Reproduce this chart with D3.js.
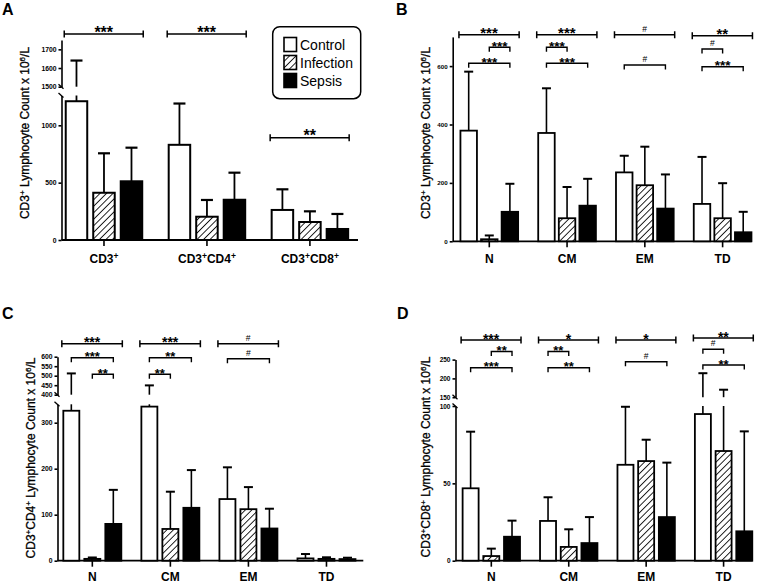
<!DOCTYPE html>
<html><head><meta charset="utf-8">
<script src="https://cdn.jsdelivr.net/npm/d3@7"></script>
<style>body{margin:0;background:#fff}svg{display:block}text{font-family:"Liberation Sans",Arial,sans-serif;fill:#000}</style>
</head><body><svg id="c" width="760" height="584"></svg>
<script>
// ---------- DATA ----------
const series = ["Control", "Infection", "Sepsis"];
const catsA = ["CD3+", "CD3+CD4+", "CD3+CD8+"];
const catsSub = ["N", "CM", "EM", "TD"];

// Panel A: CD3+ totals
const aControl = [1210, 830, 262],  aControlSD = [430, 360, 180];
const aInfection = [412, 203, 157], aInfectionSD = [344, 146, 93];
const aSepsis = [512, 351, 96],     aSepsisSD = [293, 236, 131];
// Panel B: CD3+ subsets
const bControl = [379, 371, 236, 128], bControlSD = [202, 153, 57, 161];
const bInfection = [7, 79, 192, 79],   bInfectionSD = [13, 107, 132, 120];
const bSepsis = [101, 122, 112, 31],   bSepsisSD = [96, 92, 117, 70];
// Panel C: CD3+CD4+ subsets
const cControl = [326, 335, 134, 5],   cControlSD = [186, 114, 69, 9.5];
const cInfection = [4, 69, 112, 4],    cInfectionSD = [3, 81, 48, 3.4];
const cSepsis = [80, 115, 70, 3.5],    cSepsisSD = [74, 82, 43, 3];
// Panel D: CD3+CD8+ subsets
const dControl = [46.8, 25.7, 62, 94.8], dControlSD = [36.6, 15.3, 37.5, 119];
const dInfection = [3, 8.9, 64.4, 70.9], dInfectionSD = [4.8, 11.4, 13.8, 99];
const dSepsis = [15.5, 11.4, 28.2, 19],  dSepsisSD = [10.4, 16.8, 35.2, 64.6];

// Y tick labels
const aTicksLow = [0, 500, 1000], aTicksUp = [1500, 1600, 1700];
const bTicks = [0, 200, 400, 600];
const cTicksLow = [0, 100, 200, 300], cTicksUp = [400, 450, 500, 550, 600];
const dTicksLow = [0, 50, 100], dTicksUp = [150, 200, 250];

// Significance: [category, comparison, label, level index]
const sigA = [["CD3+","all","***",0],["CD3+CD4+","all","***",0],["CD3+CD8+","all","**",1]];
const sigB = [["N","all","***",0],["N","Infection-Sepsis","***",1],["N","Control-Sepsis","***",2],
  ["CM","all","***",0],["CM","Control-Infection","***",1],["CM","Control-Sepsis","***",2],
  ["EM","all","#",0],["EM","Control-Sepsis","#",3],
  ["TD","all","**",4],["TD","Control-Infection","#",5],["TD","Control-Sepsis","***",6]];
const sigC = [["N","all","***",0],["N","Control-Sepsis","***",1],["N","Infection-Sepsis","**",2],
  ["CM","all","***",0],["CM","Control-Sepsis","**",1],["CM","Control-Infection","**",2],
  ["EM","all","#",0],["EM","Control-Sepsis","#",3]];
const sigD = [["N","all","***",0],["N","Infection-Sepsis","**",1],["N","Control-Sepsis","***",2],
  ["CM","all","*",0],["CM","Control-Infection","**",1],["CM","Control-Sepsis","**",2],
  ["EM","all","*",0],["EM","Control-Sepsis","#",3],
  ["TD","all","**",4],["TD","Control-Infection","#",5],["TD","Control-Sepsis","**",6]];

// ---------- LAYOUT ----------
const panels = [
 {letter:"A", lx:2, ly:15, cats:catsA, means:[aControl,aInfection,aSepsis], sds:[aControlSD,aInfectionSD,aSepsisSD], sig:sigA,
  xRange:[52.5,361.4], ax:61.5, axEnd:358, barW:21.5, off:27.5, cap:12, bw:2, ew:1.8, labOff:23,
  lower:{d:[0,1260], r:[240,95.5], t:aTicksLow}, upper:{d:[1500,1750], r:[86.7,40], t:aTicksUp},
  title:"CD3+ Lymphocyte Count x 10^6/L", tx:25, ty:133, levels:[34,137.7], tickFont:6.8, starBig:16, starSmall:15, legend:true},
 {letter:"B", lx:396, ly:15, cats:catsSub, means:[bControl,bInfection,bSepsis], sds:[bControlSD,bInfectionSD,bSepsisSD], sig:sigB,
  xRange:[450.4,761.5], ax:452.7, axEnd:751.7, barW:16.5, off:20.6, cap:9, bw:1.8, ew:1.6, labOff:22,
  lower:{d:[0,700], r:[241.3,36.9], t:bTicks}, upper:null,
  title:"CD3+ Lymphocyte Count x 10^6/L", tx:426, ty:133, levels:[34.7,47.3,63.3,65,35.7,49,66.7], tickFont:6.2, starBig:15, starSmall:13.5},
 {letter:"C", lx:2, ly:319, cats:catsSub, means:[cControl,cInfection,cSepsis], sds:[cControlSD,cInfectionSD,cSepsisSD], sig:sigC,
  xRange:[53.3,365.5], ax:57.5, axEnd:363.3, barW:16, off:21, cap:9, bw:1.8, ew:1.6, labOff:20,
  lower:{d:[0,340], r:[560.7,404.3], t:cTicksLow}, upper:{d:[400,600], r:[394.7,356.7], t:cTicksUp},
  title:"CD3+CD4+ Lymphocyte Count x 10^6/L", tx:31, ty:458, levels:[343.7,357.7,374.3,358.7], tickFont:6.8, starBig:14, starSmall:13},
 {letter:"D", lx:397, ly:319, cats:catsSub, means:[dControl,dInfection,dSepsis], sds:[dControlSD,dInfectionSD,dSepsisSD], sig:sigD,
  xRange:[452.6,762.3], ax:455.5, axEnd:752.5, barW:16, off:20.7, cap:9, bw:1.8, ew:1.6, labOff:20,
  lower:{d:[0,100], r:[560.7,406], t:dTicksLow}, upper:{d:[150,250], r:[397.2,359.6], t:dTicksUp},
  title:"CD3+CD8+ Lymphocyte Count x 10^6/L", tx:426, ty:457, levels:[340,351.5,367.7,361.7,338,349.3,365], tickFont:6.5, starBig:14, starSmall:13}
];

const svg = d3.select("#c");
const defs = svg.append("defs");
defs.append("pattern").attr("id","hatch").attr("patternUnits","userSpaceOnUse")
  .attr("width",4.6).attr("height",4.6).attr("patternTransform","rotate(45)")
  .call(p=>{p.append("rect").attr("width",4.6).attr("height",4.6).attr("fill","#fff");
            p.append("line").attr("x1",0).attr("y1",0).attr("x2",0).attr("y2",4.6).attr("stroke","#000").attr("stroke-width",1.7);});

const fills = {Control:"#fff", Infection:"url(#hatch)", Sepsis:"#000"};

function rich(sel, str, supSize, shift){
  const parts = str.split(/(\+|\^\d+)/).filter(s=>s.length);
  let inSup=false;
  parts.forEach(p=>{
    const isSup = p==="+" || p[0]==="^";
    const t = p[0]==="^" ? p.slice(1) : p;
    const ts = sel.append("tspan").text(t);
    if(isSup){ ts.attr("font-size",supSize); if(!inSup) ts.attr("dy",-shift); inSup=true; }
    else if(inSup){ ts.attr("dy",shift); inSup=false; }
  });
}

panels.forEach(p=>{
  const g = svg.append("g");
  const x = d3.scaleBand().domain(p.cats).range(p.xRange).padding(0);
  const inner = d3.scaleBand().domain(series).range([-1.5*p.off, 1.5*p.off]);
  const cx = (cat, s) => x(cat) + x.bandwidth()/2 + inner(s) + inner.bandwidth()/2;
  const yl = d3.scaleLinear().domain(p.lower.d).range(p.lower.r);
  const yu = p.upper ? d3.scaleLinear().domain(p.upper.d).range(p.upper.r) : null;
  const y = v => (yu && v > p.lower.d[1]) ? yu(v) : yl(v);
  const base = p.lower.r[0];

  // panel letter
  g.append("text").attr("x",p.lx).attr("y",p.ly).attr("font-size",16).attr("font-weight","bold").text(p.letter);

  // y axes
  const styleAxis = a => {
    a.selectAll("path,line").attr("stroke","#000").attr("stroke-width",1.6);
    a.selectAll("text").attr("font-size",p.tickFont).attr("font-weight","bold").attr("font-family","'Liberation Sans',Arial,sans-serif").attr("fill","#000");
  };
  g.append("g").attr("transform",`translate(${p.ax},0)`)
    .call(d3.axisLeft(yl).tickValues(p.lower.t).tickFormat(d3.format("d")).tickSize(3).tickSizeOuter(0).tickPadding(2)).call(styleAxis);
  if(yu){
    g.append("g").attr("transform",`translate(${p.ax},0)`)
      .call(d3.axisLeft(yu).tickValues(p.upper.t).tickFormat(d3.format("d")).tickSize(3).tickSizeOuter(0).tickPadding(2)).call(styleAxis);
    // break marks
    [p.upper.r[0], p.lower.r[1]].forEach(yy=>{
      g.append("line").attr("x1",p.ax-3).attr("y1",yy-2.5).attr("x2",p.ax+2).attr("y2",yy+2)
        .attr("stroke","#000").attr("stroke-width",1.3);
    });
  }
  g.selectAll(".domain").attr("fill","none");

  // x axis
  const xa = g.append("g").attr("transform",`translate(0,${base})`)
    .call(d3.axisBottom(x).tickSize(6).tickSizeOuter(0));
  xa.select(".domain").remove();
  xa.selectAll("line").attr("stroke","#000").attr("stroke-width",1.6);
  xa.selectAll("text").each(function(d){
    const t = d3.select(this); t.text(null);
    t.attr("y",p.labOff).attr("dy",null)
     .attr("font-size",12).attr("font-weight","bold").attr("font-family","'Liberation Sans',Arial,sans-serif").attr("fill","#000");
    rich(t, d, 8.5, 4.5);
  });
  g.append("line").attr("x1",p.ax).attr("x2",p.axEnd).attr("y1",base).attr("y2",base)
    .attr("stroke","#000").attr("stroke-width",1.8);

  // bars
  series.forEach((s,si)=>{
    p.cats.forEach((cat,ci)=>{
      const m = p.means[si][ci], sd = p.sds[si][ci];
      const xc = cx(cat,s);
      g.append("rect").attr("x",xc-p.barW/2).attr("width",p.barW)
        .attr("y",y(m)).attr("height",base-y(m))
        .attr("fill",fills[s]).attr("stroke","#000").attr("stroke-width",p.bw);
      const top = m+sd;
      const segs = (yu && top > p.lower.d[1]) ? [[y(m), yl(p.lower.d[1])],[yu(p.upper.d[0]), yu(top)]] : [[y(m), y(top)]];
      segs.forEach(([a,b])=>g.append("line").attr("x1",xc).attr("x2",xc).attr("y1",a).attr("y2",b)
        .attr("stroke","#000").attr("stroke-width",p.ew));
      g.append("line").attr("x1",xc-p.cap/2).attr("x2",xc+p.cap/2).attr("y1",y(top)).attr("y2",y(top))
        .attr("stroke","#000").attr("stroke-width",p.ew+0.4);
    });
  });

  // significance
  p.sig.forEach(([cat, kind, label, lvl])=>{
    const by = p.levels[lvl];
    let x1, x2;
    if(kind==="all"){
      x1 = cx(cat,series[0]) - p.barW/2 - 1.5; x2 = cx(cat,series[2]) + p.barW/2 + 1;
      g.append("path").attr("d",`M${x1},${by}H${x2}M${x1},${by-3.5}V${by+3.5}M${x2},${by-3.5}V${by+3.5}`)
        .attr("stroke","#000").attr("stroke-width",1.5).attr("fill","none");
    } else {
      const [a,b] = kind.split("-");
      x1 = cx(cat,a); x2 = cx(cat,b);
      g.append("path").attr("d",`M${x1},${by+4.5}V${by}H${x2}V${by+4.5}`)
        .attr("stroke","#000").attr("stroke-width",1.4).attr("fill","none");
    }
    const isHash = label==="#";
    g.append("text").attr("x",(x1+x2)/2).attr("y", isHash ? by-3.2 : by+3.5)
      .attr("text-anchor","middle")
      .attr("font-size", isHash ? 8.5 : (kind==="all" ? p.starBig : p.starSmall))
      .attr("font-weight", isHash ? "normal" : "bold").text(label);
  });

  // y title
  const tt = g.append("text").attr("transform",`translate(${p.tx},${p.ty}) rotate(-90)`)
    .attr("text-anchor","middle").attr("font-size",12).attr("dy","0.35em")
    .attr("stroke","#000").attr("stroke-width",0.3);
  rich(tt, p.title, 8, 4);

  // legend
  if(p.legend){
    const lg = g.append("g");
    lg.append("rect").attr("x",272.7).attr("y",26.7).attr("width",88).attr("height",72).attr("rx",7)
      .attr("fill","#fff").attr("stroke","#000").attr("stroke-width",1.5);
    series.forEach((s,i)=>{
      lg.append("rect").attr("x",284).attr("y",37.5+i*18).attr("width",12.5).attr("height",14)
        .attr("fill",fills[s]).attr("stroke","#000").attr("stroke-width",1.6);
      lg.append("text").attr("x",300).attr("y",50+i*18).attr("font-size",14).text(s);
    });
  }
});
</script></body></html>
